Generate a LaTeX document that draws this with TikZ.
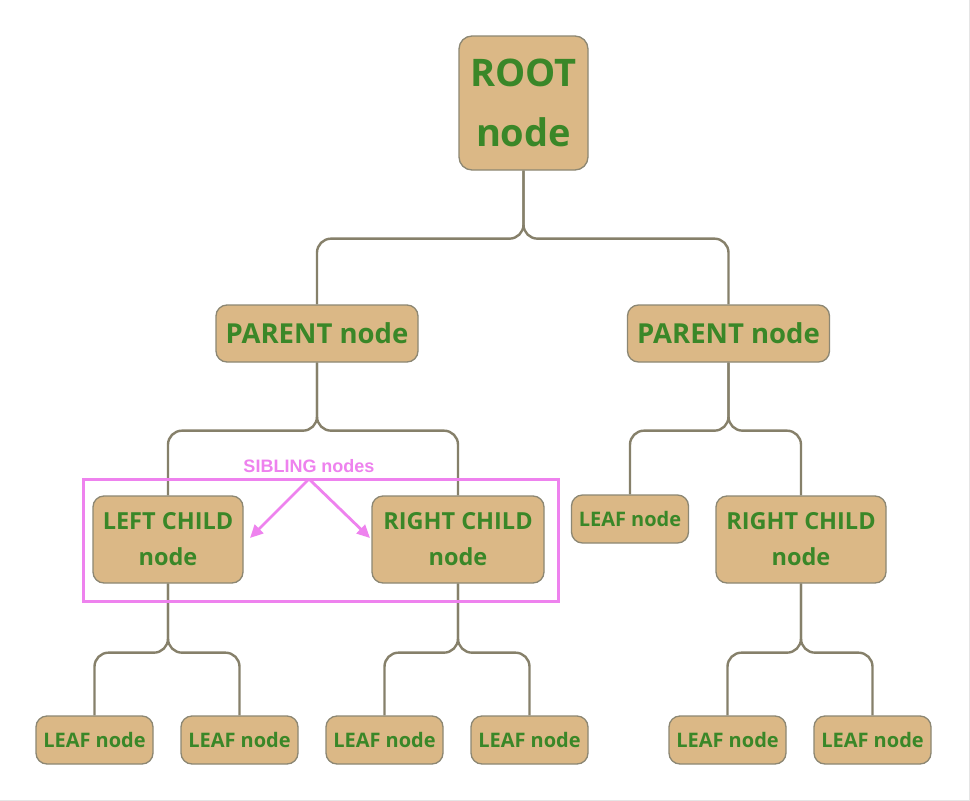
\documentclass[tikz,border=0pt]{standalone}
\usepackage{fontspec}
\setmainfont{Open Sans}
\newfontfamily\arialbold{Liberation Sans}
\usetikzlibrary{arrows.meta}
\definecolor{tanc}{HTML}{DBB886}
\definecolor{bordc}{HTML}{8C8773}
\definecolor{greenc}{HTML}{3A8728}
\definecolor{edgec}{HTML}{86806A}
\definecolor{violetc}{HTML}{EE82EE}
\begin{document}
\begin{tikzpicture}[x=1pt,y=-1pt,
  box/.style={draw=bordc, fill=tanc, rounded corners=11pt, line width=1.3pt, text=greenc, font=\bfseries, align=center, inner sep=0pt},
  leaf/.style={box, minimum width=117pt, minimum height=48pt, font=\bfseries\fontsize{20}{24}\selectfont},
  child/.style={box, minimum height=87pt, font=\bfseries\fontsize{23.5}{36}\selectfont},
  parent/.style={box, minimum width=202pt, minimum height=57pt, font=\bfseries\fontsize{27.5}{30}\selectfont},
  edge/.style={draw=edgec, line width=2.4pt, rounded corners=14pt},
  sib/.style={draw=violetc, line width=2.8pt, -{Triangle[length=13pt,width=12pt]}}]
\useasboundingbox (0,0) rectangle (970,801);
\fill[white] (0,0) rectangle (970,801);
\draw[black!10, line width=1pt] (969.5,0) -- (969.5,800.5) -- (0,800.5);

\node[box, minimum width=129pt, minimum height=134pt, rounded corners=13pt, font=\bfseries\fontsize{38}{60}\selectfont] (root) at (523.5,103) {ROOT\\node};
\node[parent] (pl) at (317,333.5) {PARENT node};
\node[parent] (pr) at (728.5,333.5) {PARENT node};
\node[child, minimum width=150pt] (lc) at (168,539.5) {LEFT CHILD\\node};
\node[child, minimum width=172pt] (rc) at (458,539.5) {RIGHT CHILD\\node};
\node[leaf] (lm) at (630,519) {LEAF node};
\node[child, minimum width=170pt] (rr) at (801,539.5) {RIGHT CHILD\\node};
\node[leaf] (l1) at (94.5,740) {LEAF node};
\node[leaf] (l2) at (239.5,740) {LEAF node};
\node[leaf] (l3) at (384.5,740) {LEAF node};
\node[leaf] (l4) at (529.5,740) {LEAF node};
\node[leaf] (l5) at (727.5,740) {LEAF node};
\node[leaf] (l6) at (872.5,740) {LEAF node};

\draw[edge] (root.south) -- ++(0,68) -| (pl.north);
\draw[edge] (root.south) -- ++(0,68) -| (pr.north);
\draw[edge] (pl.south) -- ++(0,68) -| (lc.north);
\draw[edge] (pl.south) -- ++(0,68) -| (rc.north);
\draw[edge] (pr.south) -- ++(0,68) -| (lm.north);
\draw[edge] (pr.south) -- ++(0,68) -| (rr.north);
\draw[edge] (lc.south) -- ++(0,69) -| (l1.north);
\draw[edge] (lc.south) -- ++(0,69) -| (l2.north);
\draw[edge] (rc.south) -- ++(0,69) -| (l3.north);
\draw[edge] (rc.south) -- ++(0,69) -| (l4.north);
\draw[edge] (rr.south) -- ++(0,69) -| (l5.north);
\draw[edge] (rr.south) -- ++(0,69) -| (l6.north);

\node[draw=violetc, line width=3pt, minimum width=475pt, minimum height=122pt, inner sep=0pt] (sibbox) at (320.5,540) {};
\node[text=violetc, font=\arialbold\bfseries\fontsize{18}{20}\selectfont, inner sep=1pt] (siblab) at (309,466) {SIBLING nodes};
\coordinate (sibsrc) at (309,479);
\coordinate (sibl) at (250,538);
\coordinate (sibr) at (370,538);
\draw[sib] (sibsrc) -- (sibl);
\draw[sib] (sibsrc) -- (sibr);
\end{tikzpicture}
\end{document}
